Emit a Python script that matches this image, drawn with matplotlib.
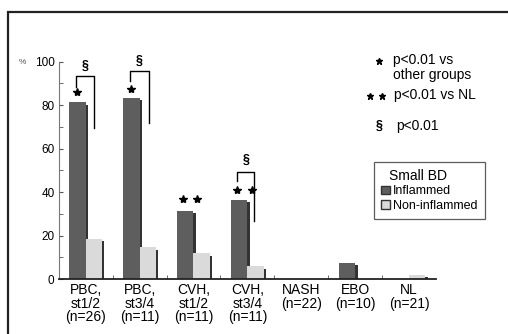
import numpy as np
import matplotlib.pyplot as plt
from matplotlib.patches import Rectangle

plt.rcParams['font.family'] = ['Liberation Sans', 'DejaVu Sans']

groups = ["PBC,\nst1/2\n(n=26)", "PBC,\nst3/4\n(n=11)", "CVH,\nst1/2\n(n=11)",
          "CVH,\nst3/4\n(n=11)", "NASH\n(n=22)", "EBO\n(n=10)", "NL\n(n=21)"]
inflamed = [81.5, 83.5, 31.5, 36.5, 0, 7.5, 0]
non_inflamed = [18.5, 14.5, 12, 6, 0, 0, 2]

DARK = "#5e5e5e"
LIGHT = "#dadada"
SHADOW = "#333333"

fig = plt.figure(figsize=(5.08, 3.34), dpi=100)
# outer frame of the figure panel
fig.patches.append(Rectangle((8 / 508, -0.05), 1.1, 1 - 12 / 334 + 0.05,
                             transform=fig.transFigure, fill=False,
                             edgecolor="#222222", linewidth=1.6))

ax = fig.add_axes([58.7 / 508, 1 - 279 / 334, (436 - 58.7) / 508, (279 - 61.7) / 334])
x = np.arange(len(groups))
w = 0.3

# drop shadows first, then the bars
for xs, vals in ((x - w / 2, inflamed), (x + w / 2, non_inflamed)):
    h = np.clip(np.array(vals) - 1.2, 0, None)
    ax.bar(xs + 0.045, h, w, color=SHADOW, zorder=1, linewidth=0)
ax.bar(x - w / 2, inflamed, w, color=DARK, zorder=2, linewidth=0)
ax.bar(x + w / 2, non_inflamed, w, color=LIGHT, zorder=2, linewidth=0)

ax.set_xlim(-0.5, 6.5)
ax.set_ylim(0, 100)
ax.set_yticks([0, 20, 40, 60, 80, 100])
ax.set_yticks([10, 30, 50, 70, 90], minor=True)
ax.set_xticks(x)
ax.set_xticklabels(groups, fontsize=10, linespacing=0.95)
ax.set_xticks(np.arange(0.5, 6, 1), minor=True)
ax.tick_params(axis="x", which="major", length=0, pad=3)
ax.tick_params(axis="x", which="minor", length=3, direction="in", color="#555555")
ax.tick_params(axis="y", which="both", direction="in", length=3, labelsize=8.5,
               color="#555555", pad=3)
for s in ("top", "right"):
    ax.spines[s].set_visible(False)
ax.spines["left"].set_color("#777777")
ax.spines["bottom"].set_color("#222222")
ax.spines["bottom"].set_linewidth(1.3)
fig.text(22 / 508, 1 - 62 / 334, "%", fontsize=6, ha="center", va="center", color="#555555")

# significance marks
star_kw = dict(marker="*", color="black", markersize=6, linestyle="none",
               zorder=5, clip_on=False)
ax.plot([-0.155], [86], **star_kw)
ax.plot([0.85], [87.5], **star_kw)
ax.plot([1.81, 2.07], [37, 37], **star_kw)
ax.plot([2.81, 3.08], [41, 41], **star_kw)


def bracket(x0, x1, top, y0, y1, label_y):
    ax.plot([x0, x0, x1, x1], [y0, top, top, y1], color="black", lw=1.0, zorder=5)
    ax.text((x0 + x1) / 2, label_y, "§", ha="center", va="center", fontsize=9,
            fontweight="bold", zorder=5)


bracket(-0.17, 0.16, 93.2, 88.5, 69.5, 98)
bracket(0.83, 1.17, 95.8, 91, 72, 100.5)
bracket(2.81, 3.13, 49.4, 45, 26.5, 55)

# key to the marks
key_star = dict(marker="*", color="black", markersize=5, linestyle="none",
                transform=fig.transFigure, clip_on=False)
ax.plot([379 / 508], [1 - 61 / 334], **key_star)
ax.plot([370 / 508, 382 / 508], [1 - 96 / 334, 1 - 96 / 334], **key_star)
fig.text(393 / 508, 1 - 60 / 334, "p<0.01 vs", ha="left", va="center", fontsize=10)
fig.text(393 / 508, 1 - 75 / 334, "other groups", ha="left", va="center", fontsize=10)
fig.text(394 / 508, 1 - 95 / 334, "p<0.01 vs NL", ha="left", va="center", fontsize=10)
fig.text(379 / 508, 1 - 126 / 334, "§", ha="center", va="center", fontsize=9,
         fontweight="bold")
fig.text(396 / 508, 1 - 126 / 334, "p<0.01", ha="left", va="center", fontsize=10)

handles = [Rectangle((0, 0), 1, 1, facecolor=DARK, edgecolor="#333333"),
           Rectangle((0, 0), 1, 1, facecolor=LIGHT, edgecolor="#333333")]
leg = fig.legend(handles, ["Inflammed", "Non-inflammed"], title="Small BD",
                 loc="upper left", bbox_to_anchor=(374 / 508, 1 - 162 / 334),
                 fontsize=9, title_fontsize=10, frameon=True, fancybox=False,
                 handlelength=0.7, handleheight=0.7, handletextpad=0.3,
                 borderpad=0.55, labelspacing=0.2, borderaxespad=0)
leg.get_frame().set_edgecolor("#333333")
leg.get_frame().set_linewidth(0.9)
leg.get_title().set_position((8, 0))
leg._legend_box.align = "left"

fig.savefig("out.png", dpi=100)
